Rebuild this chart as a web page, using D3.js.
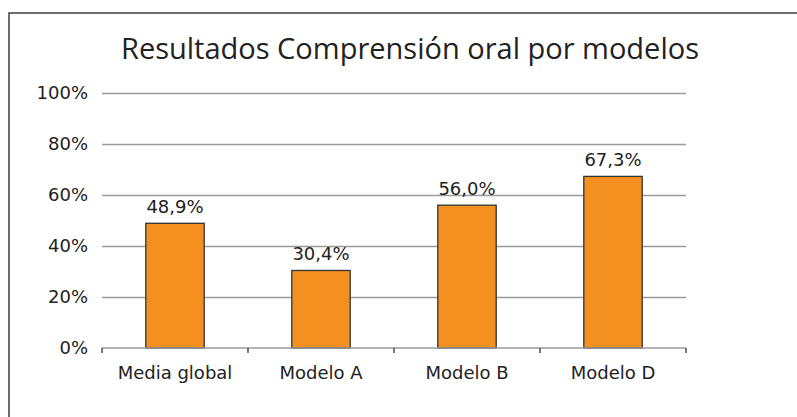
<!DOCTYPE html>
<html>
<head>
<meta charset="utf-8">
<script src="https://cdn.jsdelivr.net/npm/d3@7.9.0/dist/d3.min.js"></script>
<style>
  body { margin: 0; background: #fff; }
  svg { display: block; font-family: "DejaVu Sans", sans-serif; }
</style>
</head>
<body>
<div id="chart"></div>
<script>
const title = 'Resultados Comprensión oral por modelos';
const categories = ['Media global', 'Modelo A', 'Modelo B', 'Modelo D'];
const values = [48.9, 30.4, 56.0, 67.3];
const yTicks = [0, 20, 40, 60, 80, 100];

const width = 797;
const height = 417;
const margin = { top: 93, right: 111, bottom: 69, left: 102 };
const labelFont = '"DejaVu Sans", sans-serif';

const data = categories.map((c, i) => ({ cat: c, value: values[i] }));

const svg = d3.select('#chart')
  .append('svg')
  .attr('width', width)
  .attr('height', height);

// frame
svg.append('rect')
  .attr('x', 9)
  .attr('y', 13)
  .attr('width', width)
  .attr('height', height)
  .attr('fill', 'none')
  .attr('stroke', '#4a4a4a')
  .attr('stroke-width', 1.6);

const xScale = d3.scaleBand()
  .domain(categories)
  .range([margin.left, width - margin.right])
  .paddingInner(0.6)
  .paddingOuter(0.3);

const yScale = d3.scaleLinear()
  .domain([0, 100])
  .range([height - margin.bottom, margin.top]);

// gridlines
svg.append('g')
  .attr('class', 'gridlines')
  .attr('transform', `translate(${margin.left}, 0)`)
  .call(d3.axisLeft(yScale).tickValues(yTicks.slice(1)).tickFormat('')
    .tickSize(-(width - margin.left - margin.right)))
  .call(g => g.select('.domain').remove())
  .call(g => g.selectAll('line').attr('stroke', '#9a9a9a').attr('stroke-width', 1.3));

// y labels
svg.append('g')
  .attr('transform', `translate(${margin.left}, 0)`)
  .call(d3.axisLeft(yScale).tickValues(yTicks).tickSize(0).tickPadding(14)
    .tickFormat(d => d + '%'))
  .call(g => g.select('.domain').remove())
  .call(g => g.selectAll('text')
    .attr('font-size', 18)
    .attr('font-family', labelFont)
    .attr('fill', '#222'));

// bars
svg.append('g')
  .selectAll('rect')
  .data(data)
  .join('rect')
  .attr('x', d => xScale(d.cat))
  .attr('y', d => yScale(d.value))
  .attr('width', xScale.bandwidth())
  .attr('height', d => yScale(0) - yScale(d.value))
  .attr('fill', '#f39020')
  .attr('stroke', '#333')
  .attr('stroke-width', 1.3);

// value labels
svg.append('g')
  .selectAll('text')
  .data(data)
  .join('text')
  .attr('x', d => xScale(d.cat) + xScale.bandwidth() / 2)
  .attr('y', d => yScale(d.value) - 10)
  .attr('text-anchor', 'middle')
  .attr('font-size', 18)
  .attr('fill', '#222')
  .text(d => d.value.toFixed(1).replace('.', ',') + '%');

// x axis with category boundary ticks
const xAxis = svg.append('g')
  .attr('transform', `translate(0, ${yScale(0)})`);

xAxis.append('line')
  .attr('x1', margin.left)
  .attr('x2', width - margin.right)
  .attr('stroke', '#9a9a9a')
  .attr('stroke-width', 1.3);

const step = xScale.step();
const bounds = d3.range(categories.length + 1).map(i => margin.left + i * step);
xAxis.selectAll('line.bound')
  .data(bounds)
  .join('line')
  .attr('class', 'bound')
  .attr('x1', d => d).attr('x2', d => d)
  .attr('y1', 0).attr('y2', 5)
  .attr('stroke', '#333')
  .attr('stroke-width', 1.3);

xAxis.selectAll('text')
  .data(categories)
  .join('text')
  .attr('x', d => xScale(d) + xScale.bandwidth() / 2)
  .attr('y', 31)
  .attr('text-anchor', 'middle')
  .attr('font-size', 18)
  .attr('fill', '#222')
  .text(d => d);

// title
svg.append('text')
  .attr('x', 410)
  .attr('y', 59)
  .attr('text-anchor', 'middle')
  .attr('font-family', '"Open Sans", sans-serif')
  .attr('font-size', 29)
  .attr('fill', '#222')
  .text(title);
</script>
</body>
</html>
